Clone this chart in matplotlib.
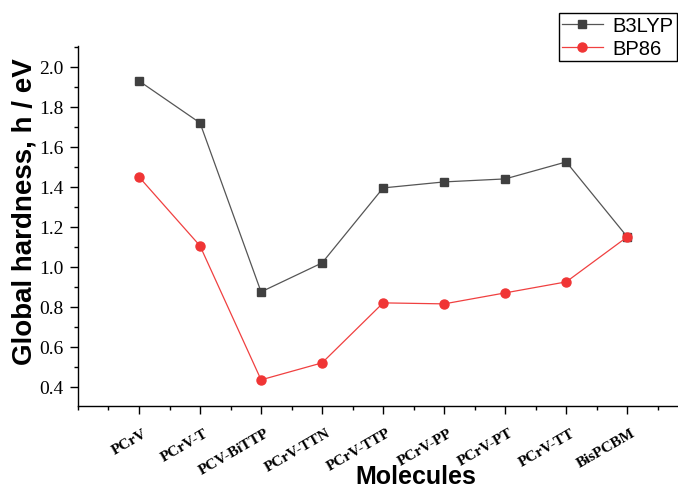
import numpy as np
import matplotlib.pyplot as plt
import matplotlib.transforms as mtransforms
from matplotlib.ticker import MultipleLocator

plt.rcParams['font.family'] = 'Liberation Serif'

molecules = ['PCrV', 'PCrV-T', 'PCV-BiTTP', 'PCrV-TTN', 'PCrV-TTP',
             'PCrV-PP', 'PCrV-PT', 'PCrV-TT', 'BisPCBM']
b3lyp = [1.93, 1.72, 0.875, 1.02, 1.395, 1.425, 1.44, 1.525, 1.15]
bp86 = [1.45, 1.105, 0.435, 0.52, 0.82, 0.815, 0.87, 0.925, 1.15]
yticks = [0.4, 0.6, 0.8, 1.0, 1.2, 1.4, 1.6, 1.8, 2.0]

fig = plt.figure(figsize=(6.78, 4.89), dpi=100)
ax = fig.add_axes([0.115, 0.168, 0.884, 0.736])

x = np.arange(1, len(molecules) + 1)
ax.plot(x, b3lyp, color='#555555', lw=0.9, marker='s', ms=6,
        mfc='#404040', mec='#404040', label='B3LYP')
ax.plot(x, bp86, color='#f04040', lw=0.9, marker='o', ms=6.5,
        mfc='#f03535', mec='#f03535', label='BP86')

ax.set_xlim(0, 9.82)
ax.set_ylim(0.305, 2.105)
ax.set_xticks(x)
ax.set_xticklabels(molecules, rotation=30, ha='right', rotation_mode='anchor',
                   fontweight='bold', fontsize=11)
ax.xaxis.set_minor_locator(MultipleLocator(0.5))
ax.set_yticks(yticks)
ax.set_yticklabels(['%.1f' % v for v in yticks], fontsize=14)
ax.yaxis.set_minor_locator(MultipleLocator(0.1))
ax.tick_params(which='major', direction='out', length=5.5, width=1)
ax.tick_params(which='minor', direction='out', length=3, width=1)
ax.tick_params(axis='x', which='major', pad=9)
ax.tick_params(axis='y', which='major', pad=5)

# nudge the rotated labels a little to the right, as in the original
shift = mtransforms.ScaledTranslation(4 / 100, 0, fig.dpi_scale_trans)
for lab in ax.get_xticklabels():
    lab.set_transform(lab.get_transform() + shift)

for s in ['top', 'right']:
    ax.spines[s].set_visible(False)
for s in ['left', 'bottom']:
    ax.spines[s].set_linewidth(1.0)

ax.set_xlabel('Molecules', family='Liberation Sans', fontweight='bold',
              fontsize=18)
ax.xaxis.set_label_coords(0.563, -0.162)
ax.set_ylabel('Global hardness, h / eV', family='Liberation Sans',
              fontweight='bold', fontsize=20)
ax.yaxis.set_label_coords(-0.068, 0.542)

leg = fig.legend(loc='upper right', bbox_to_anchor=(0.998, 0.971),
                 prop={'family': 'Liberation Sans', 'size': 14.5},
                 fancybox=False, edgecolor='black', framealpha=1,
                 borderpad=0.15, handlelength=2.0, labelspacing=0.2,
                 handletextpad=0.5, borderaxespad=0)
leg.get_frame().set_linewidth(1.0)

fig.savefig('out.png', dpi=100)
